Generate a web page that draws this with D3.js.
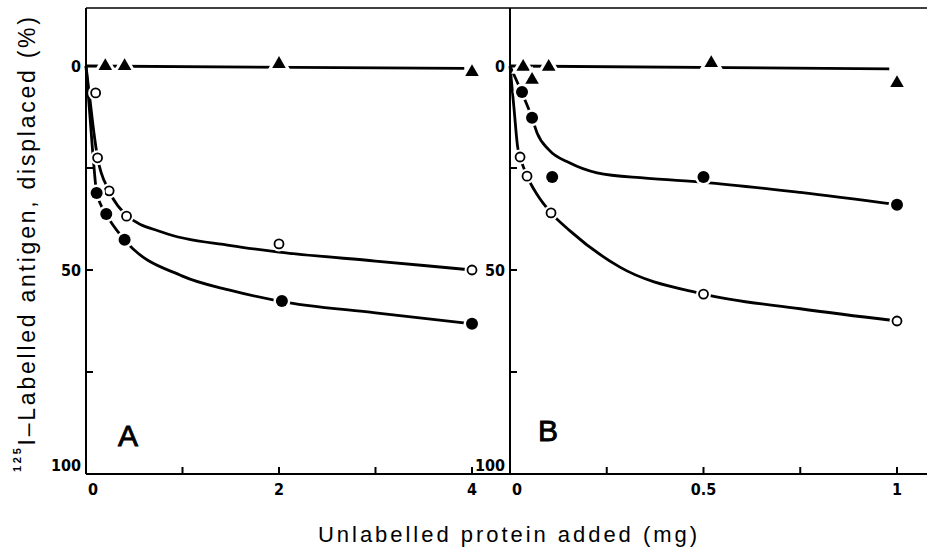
<!DOCTYPE html>
<html>
<head>
<meta charset="utf-8">
<script src="https://cdn.jsdelivr.net/npm/d3@7"></script>
<style>
  body { margin: 0; background: #fff; }
  svg { display: block; }
  .tick-label { font-family: "DejaVu Sans Condensed", "Liberation Sans Narrow", sans-serif; font-stretch: condensed; font-weight: bold; font-size: 16px; }
</style>
</head>
<body>
<div id="chart"></div>
<script>
// ---- panel A (0-4 mg) ----
const aTriX = [0.2, 0.4, 2, 4];
const aTriY = [0, 0, -0.5, 1.5];
const aOpenX = [0.1, 0.12, 0.24, 0.42, 2, 4];
const aOpenY = [6.6, 22.5, 30.6, 36.8, 43.6, 50];
const aFillX = [0.11, 0.21, 0.4, 2.03, 4];
const aFillY = [31.1, 36.3, 42.6, 57.6, 63.2];
// fitted curves
const aTriFitX = [0, 3.92];
const aTriFitY = [0, 0.6];
const aOpenFitX = [0, 0.04, 0.08, 0.12, 0.24, 0.42, 0.8, 1.5, 2, 3, 4];
const aOpenFitY = [0, 8, 16, 22.5, 30.6, 36.5, 40.8, 44, 45.6, 47.8, 50];
const aFillFitX = [0, 0.04, 0.08, 0.11, 0.21, 0.4, 1, 1.5, 2, 3, 4];
const aFillFitY = [0, 12, 24, 31, 36.3, 42.6, 51.5, 55, 57.6, 60.5, 63.2];

// ---- panel B (0-1 mg) ----
const bTriX = [0.034, 0.057, 0.1, 0.52, 1];
const bTriY = [0.2, 3.4, 0.2, -0.7, 4.2];
const bOpenX = [0.026, 0.044, 0.106, 0.5, 1];
const bOpenY = [22.3, 27, 36, 55.9, 62.5];
const bFillX = [0.031, 0.057, 0.109, 0.5, 1];
const bFillY = [6.4, 12.7, 27.2, 27.2, 34];
const bTriFitX = [0, 0.98];
const bTriFitY = [0, 0.7];
const bOpenFitX = [0, 0.01, 0.02, 0.026, 0.044, 0.07, 0.106, 0.155, 0.284, 0.5, 0.75, 1];
const bOpenFitY = [0, 10, 20, 22.3, 27, 31.5, 36, 40.4, 49.3, 55.9, 59.5, 62.5];
const bFillFitX = [0, 0.03, 0.057, 0.07, 0.1, 0.155, 0.225, 0.35, 0.5, 0.75, 1];
const bFillFitY = [0, 6.4, 12.7, 16.4, 20.5, 23.8, 26.2, 27.5, 28.5, 31, 34];

// ticks
const yTicks = [0, 25, 50, 75];
const yTickLabels = [0, 50, 100];
const aTicks = [1, 2, 3, 4];
const aTickLabels = [0, 2, 4];
const bTicks = [0.25, 0.5, 0.75, 1];
const bTickLabels = [0, 0.5, 1];

const W = 927, H = 551;
const svg = d3.select("#chart").append("svg").attr("width", W).attr("height", H);
svg.append("rect").attr("width", W).attr("height", H).attr("fill", "#fff");

const y = d3.scaleLinear().domain([0, 100]).range([66, 474]);
const xA = d3.scaleLinear().domain([0, 4]).range([86, 472]);
const xB = d3.scaleLinear().domain([0, 1]).range([510, 897]);
const topY = 8;

// frame
svg.append("line").attr("x1", xA(0)).attr("x2", W).attr("y1", topY).attr("y2", topY)
  .attr("stroke", "#000").attr("stroke-width", 1.6);
svg.append("line").attr("x1", xA(0)).attr("x2", W).attr("y1", y(100)).attr("y2", y(100))
  .attr("stroke", "#000").attr("stroke-width", 2.2);
[xA(0), xB(0)].forEach(px => {
  svg.append("line").attr("x1", px).attr("x2", px).attr("y1", topY).attr("y2", y(100))
    .attr("stroke", "#000").attr("stroke-width", 2);
});

const zip = (xs, ys) => xs.map((d, i) => [d, ys[i]]);

function drawPanel(x, ticks, tickLabels, curves, markers) {
  const x0 = x(0);
  // y ticks pointing inward
  svg.selectAll(null).data(yTicks).enter().append("line")
    .attr("x1", x0).attr("x2", x0 + 7)
    .attr("y1", d => y(d)).attr("y2", d => y(d))
    .attr("stroke", "#000").attr("stroke-width", 2);
  svg.selectAll(null).data(yTickLabels).enter().append("text")
    .attr("class", "tick-label")
    .attr("x", x0 - 5)
    .attr("y", d => y(d) + (d === 100 ? -9 : 0))
    .attr("dy", "0.36em")
    .attr("text-anchor", "end")
    .text(d => d);
  // x ticks pointing up
  svg.selectAll(null).data(ticks).enter().append("line")
    .attr("x1", d => x(d)).attr("x2", d => x(d))
    .attr("y1", y(100)).attr("y2", y(100) - 7)
    .attr("stroke", "#000").attr("stroke-width", 2);
  svg.selectAll(null).data(tickLabels).enter().append("text")
    .attr("class", "tick-label")
    .attr("x", d => x(d) + (d === 0 ? 7 : 0))
    .attr("y", y(100) + 21)
    .attr("text-anchor", "middle")
    .text(d => d);

  const line = d3.line().x(d => x(d[0])).y(d => y(d[1])).curve(d3.curveMonotoneX);
  curves.forEach(c => {
    svg.append("path").attr("d", line(c)).attr("fill", "none")
      .attr("stroke", "#000").attr("stroke-width", 2.8).attr("stroke-linejoin", "round");
  });

  markers.forEach(m => {
    const g = svg.append("g");
    m.pts.forEach(p => {
      const px = x(p[0]), py = y(p[1]);
      if (m.kind === "tri") {
        const path = d3.symbol(d3.symbolTriangle, 80)();
        g.append("path").attr("d", path).attr("transform", `translate(${px},${py})`)
          .attr("fill", "#fff").attr("stroke", "#fff").attr("stroke-width", 6);
        g.append("path").attr("d", path).attr("transform", `translate(${px},${py})`)
          .attr("fill", "#000");
      } else if (m.kind === "fill") {
        g.append("circle").attr("cx", px).attr("cy", py).attr("r", 8.5).attr("fill", "#fff");
        g.append("circle").attr("cx", px).attr("cy", py).attr("r", 6).attr("fill", "#000");
      } else {
        g.append("circle").attr("cx", px).attr("cy", py).attr("r", 7.5).attr("fill", "#fff");
        g.append("circle").attr("cx", px).attr("cy", py).attr("r", 4.5)
          .attr("fill", "#fff").attr("stroke", "#000").attr("stroke-width", 1.8);
      }
    });
  });
}

drawPanel(xA, aTicks, aTickLabels,
  [zip(aTriFitX, aTriFitY), zip(aOpenFitX, aOpenFitY), zip(aFillFitX, aFillFitY)],
  [{ kind: "tri", pts: zip(aTriX, aTriY) },
   { kind: "open", pts: zip(aOpenX, aOpenY) },
   { kind: "fill", pts: zip(aFillX, aFillY) }]);

drawPanel(xB, bTicks, bTickLabels,
  [zip(bTriFitX, bTriFitY), zip(bOpenFitX, bOpenFitY), zip(bFillFitX, bFillFitY)],
  [{ kind: "tri", pts: zip(bTriX, bTriY) },
   { kind: "open", pts: zip(bOpenX, bOpenY) },
   { kind: "fill", pts: zip(bFillX, bFillY) }]);

// panel letters
[["A", 128, 446], ["B", 548, 441]].forEach(([t, px, py]) => {
  svg.append("text").attr("x", px).attr("y", py).attr("text-anchor", "middle")
    .style("font-family", "Liberation Sans, Arial, sans-serif").style("font-size", "30px")
    .attr("stroke", "#000").attr("stroke-width", 0.9).text(t);
});

// axis titles
svg.append("text").attr("x", 318).attr("y", 542)
  .attr("textLength", 379).attr("lengthAdjust", "spacing")
  .style("font-family", "Liberation Sans, Arial, sans-serif").style("font-size", "22px")
  .text("Unlabelled protein added (mg)");

const yt = svg.append("text").attr("transform", "translate(35,472) rotate(-90)")
  .attr("textLength", 455).attr("lengthAdjust", "spacing")
  .style("font-family", "Liberation Sans, Arial, sans-serif").style("font-size", "23px");
yt.append("tspan").attr("dy", -14).style("font-size", "11px").style("font-weight", "bold").text("125");
yt.append("tspan").attr("dy", 14).text("I\u2013Labelled antigen, displaced (%)");
</script>
</body>
</html>
